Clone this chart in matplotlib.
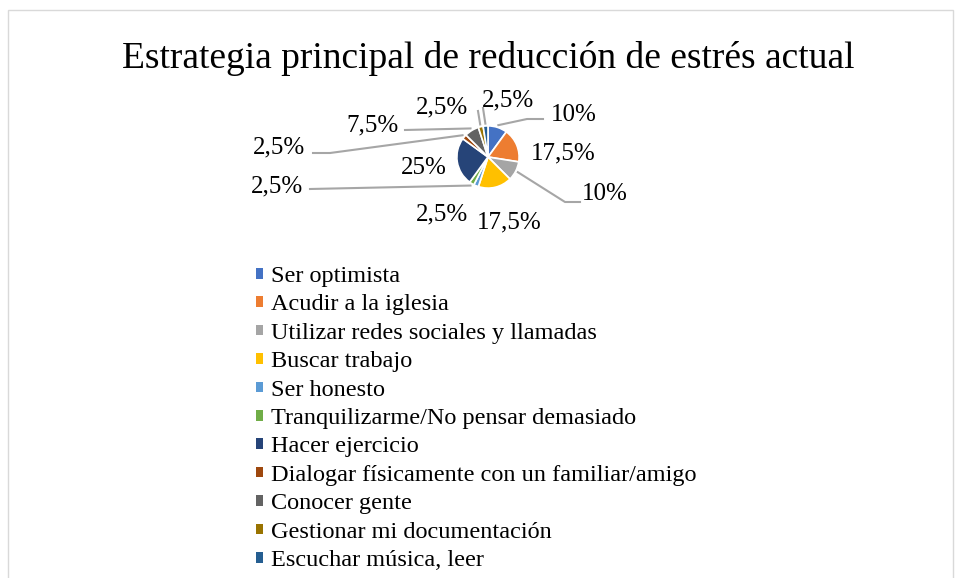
import matplotlib.pyplot as plt
from matplotlib.patches import Rectangle, Patch
import numpy as np

plt.rcParams['font.family'] = ['Liberation Serif', 'DejaVu Serif']

# data
categories = ["Ser optimista", "Acudir a la iglesia", "Utilizar redes sociales y llamadas",
              "Buscar trabajo", "Ser honesto", "Tranquilizarme/No pensar demasiado",
              "Hacer ejercicio", "Dialogar físicamente con un familiar/amigo",
              "Conocer gente", "Gestionar mi documentación", "Escuchar música, leer"]
values = [10, 17.5, 10, 17.5, 2.5, 2.5, 25, 2.5, 7.5, 2.5, 2.5]
colors = ["#4472C4", "#ED7D31", "#A5A5A5", "#FFC000", "#5B9BD5", "#70AD47",
          "#264478", "#9E480E", "#636363", "#997300", "#255E91"]

W, H = 956, 578
fig = plt.figure(figsize=(W / 100, H / 100), dpi=100)
ax = fig.add_axes([0, 0, 1, 1])

# chart frame
fig.patches.append(Rectangle((8 / W, -0.1), (953 - 8) / W, 1.1 - 10 / H,
                             transform=fig.transFigure, fill=False,
                             edgecolor="#d9d9d9", lw=1))

cx, cy, r = 488, H - 157, 31
wedges, _ = ax.pie(values, colors=colors, startangle=90, counterclock=False,
                   explode=[0.12] * len(values), radius=r, center=(cx, cy),
                   wedgeprops=dict(edgecolor="white", linewidth=1.2))
ax.set_xlim(0, W)
ax.set_ylim(0, H)
ax.set_aspect("equal")
ax.axis("off")

# label positions (pixel layout, y from top) and leader line end points
label_pos = [(574, 115), (563, 153), (605, 194), (509, 222), (442, 214), (277, 186),
             (424, 168), (279, 147), (373, 125), (442, 107), (508, 100)]
leaders = {0: [(527, 119), (543, 119)],
           2: [(565, 202), (580, 202)],
           5: [(310, 189)],
           7: [(330, 153), (313, 153)],
           8: [(405, 130)],
           9: [(478, 111)],
           10: [(483, 108)]}

for i, (w, v) in enumerate(zip(wedges, values)):
    txt = f"{v:g}".replace(".", ",") + "%"
    lx, ly = label_pos[i]
    ax.text(lx, H - ly, txt, ha="center", va="center", fontsize=18)
    if i in leaders:
        ang = np.deg2rad((w.theta1 + w.theta2) / 2)
        d = r * 1.08
        xs = [cx + d * np.cos(ang)] + [p[0] for p in leaders[i]]
        ys = [cy + d * np.sin(ang)] + [H - p[1] for p in leaders[i]]
        ax.plot(xs, ys, color="#a6a6a6", lw=1.5, zorder=0)

fig.text(488 / W, 1 - 58 / H, "Estrategia principal de reducción de estrés actual",
         ha="center", va="center", fontsize=27)

handles = [Patch(facecolor=c) for c in colors]
fig.legend(handles, categories, loc="upper left", bbox_to_anchor=(256 / W, 1 - 266 / H),
           frameon=False, fontsize=17.5, handlelength=0.3, handleheight=0.3,
           handletextpad=0.3, labelspacing=0.305, borderpad=0, borderaxespad=0)

fig.savefig("out.png", dpi=100)
